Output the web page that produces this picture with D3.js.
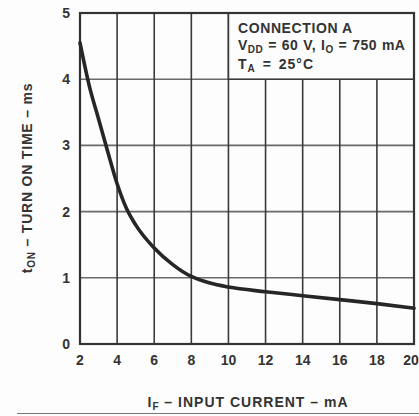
<!DOCTYPE html>
<html>
<head>
<meta charset="utf-8">
<script src="https://cdn.jsdelivr.net/npm/d3@7"></script>
<style>
  body { margin: 0; background: #fff; }
  svg { display: block; font-family: "Liberation Sans", Arial, sans-serif; font-weight: bold; }
</style>
</head>
<body>
<div id="chart"></div>
<script>
// values
var inputCurrent = [2, 2.5, 3, 3.5, 4, 4.5, 5, 6, 7, 8, 9, 10, 12, 14, 16, 18, 20];
var turnOnTime = [4.55, 3.9, 3.4, 2.9, 2.42, 2.05, 1.8, 1.45, 1.2, 1.02, 0.92, 0.86, 0.79, 0.73, 0.67, 0.61, 0.54];
var xTicks = [2, 4, 6, 8, 10, 12, 14, 16, 18, 20];
var yTicks = [0, 1, 2, 3, 4, 5];

var width = 419, height = 416;
var margin = { top: 13, right: 5, bottom: 72, left: 80 };

var x = d3.scaleLinear().domain([2, 20]).range([margin.left, width - margin.right]);
var y = d3.scaleLinear().domain([0, 5]).range([height - margin.bottom, margin.top]);

var svg = d3.select("#chart").append("svg")
  .attr("width", width).attr("height", height);

svg.append("rect").attr("width", width).attr("height", height).attr("fill", "#fdfdfd");

// grid
svg.append("g").selectAll("line")
  .data(yTicks)
  .join("line")
  .attr("x1", x(2)).attr("x2", x(20))
  .attr("y1", d => y(d)).attr("y2", d => y(d))
  .attr("stroke", "#6a6a6a").attr("stroke-width", 1.6);

svg.append("g").selectAll("line")
  .data(xTicks)
  .join("line")
  .attr("x1", d => x(d)).attr("x2", d => x(d))
  .attr("y1", y(0)).attr("y2", y(5))
  .attr("stroke", "#3a3a3a").attr("stroke-width", 1.6);

// legend box (blanks the grid in the top right cell block)
svg.append("rect")
  .attr("x", x(10)).attr("y", y(5))
  .attr("width", x(20) - x(10)).attr("height", y(4) - y(5))
  .attr("fill", "#fdfdfd").attr("stroke", "#3a3a3a").attr("stroke-width", 1.6);

// frame
svg.append("rect")
  .attr("x", x(2)).attr("y", y(5))
  .attr("width", x(20) - x(2)).attr("height", y(0) - y(5))
  .attr("fill", "none").attr("stroke", "#333").attr("stroke-width", 2.2);

// curve
var line = d3.line()
  .x((d, i) => x(inputCurrent[i]))
  .y(d => y(d))
  .curve(d3.curveMonotoneX);

svg.append("path")
  .datum(turnOnTime)
  .attr("d", line)
  .attr("fill", "none")
  .attr("stroke", "#262626")
  .attr("stroke-width", 3.6)
  .attr("stroke-linecap", "round");

// tick labels
svg.append("g").selectAll("text")
  .data(yTicks)
  .join("text")
  .attr("x", 70).attr("y", d => y(d) + 5)
  .attr("text-anchor", "end")
  .attr("font-size", 14).attr("fill", "#333")
  .text(d => d);

svg.append("g").selectAll("text")
  .data(xTicks)
  .join("text")
  .attr("x", d => d === 20 ? x(d) - 3 : x(d)).attr("y", 365)
  .attr("text-anchor", "middle")
  .attr("font-size", 14).attr("fill", "#333")
  .text(d => d);

// legend text
var legend = svg.append("g").attr("fill", "#333").attr("font-size", 14).attr("letter-spacing", 0.6);
legend.append("text").attr("x", 238).attr("y", 33).text("CONNECTION A");

var l2 = legend.append("text").attr("x", 238).attr("y", 50).attr("letter-spacing", 0.5).attr("word-spacing", 0.5);
l2.append("tspan").text("V");
l2.append("tspan").attr("font-size", 10).attr("dy", 3).text("DD");
l2.append("tspan").attr("dy", -3).text(" = 60 V, I");
l2.append("tspan").attr("font-size", 10).attr("dy", 3).text("O");
l2.append("tspan").attr("dy", -3).text(" = 750 mA");

var l3 = legend.append("text").attr("x", 238).attr("y", 69).attr("letter-spacing", 1).attr("word-spacing", 2);
l3.append("tspan").text("T");
l3.append("tspan").attr("font-size", 10).attr("dy", 3).text("A");
l3.append("tspan").attr("dy", -3).text(" = 25°C");

// axis titles
var yt = svg.append("text")
  .attr("transform", "translate(32,178) rotate(-90)")
  .attr("text-anchor", "middle")
  .attr("font-size", 14).attr("fill", "#333").attr("letter-spacing", 0.8);
yt.append("tspan").text("t");
yt.append("tspan").attr("font-size", 10).attr("dy", 3).text("ON");
yt.append("tspan").attr("dy", -3).text(" – TURN ON TIME – ms");

var xt = svg.append("text")
  .attr("x", 248).attr("y", 407)
  .attr("text-anchor", "middle")
  .attr("font-size", 14).attr("fill", "#333").attr("letter-spacing", 1);
xt.append("tspan").text("I");
xt.append("tspan").attr("font-size", 10).attr("dy", 3).text("F");
xt.append("tspan").attr("dy", -3).text(" – INPUT CURRENT – mA");

svg.append("line")
  .attr("x1", 17).attr("x2", width)
  .attr("y1", 413.5).attr("y2", 413.5)
  .attr("stroke", "#777").attr("stroke-width", 1.2);
</script>
</body>
</html>
